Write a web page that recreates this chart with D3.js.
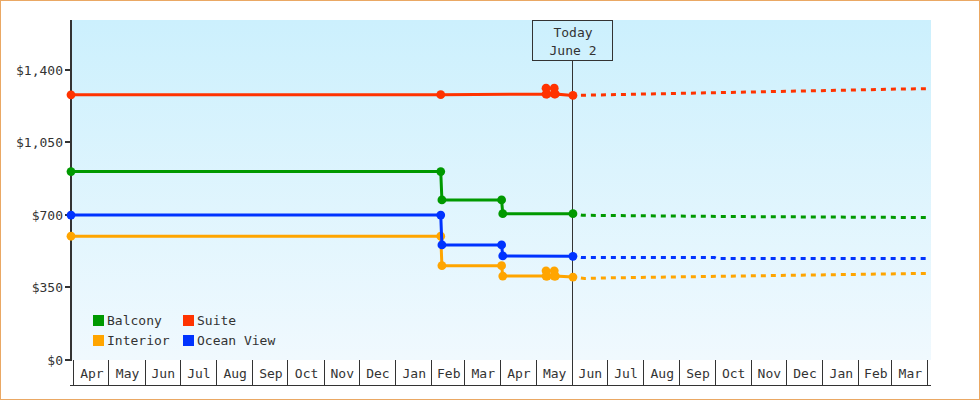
<!DOCTYPE html>
<html>
<head>
<meta charset="utf-8">
<script src="https://cdnjs.cloudflare.com/ajax/libs/d3/7.8.5/d3.min.js"></script>
<style>
  html, body { margin: 0; padding: 0; background: #fff; }
  svg { display: block; }
  text { font-family: "DejaVu Sans Mono", monospace; font-size: 13px; fill: #333; }
</style>
</head>
<body>
<div id="chart"></div>
<script>
// categories and their colours
var categories = ["Balcony", "Suite", "Interior", "Ocean View"];
var colors = ["#009900", "#ff3300", "#ffa500", "#0033ff"];

// recorded prices (solid), [date, price]
var balconyPrices = [["2017-03-30", 909], ["2018-02-09", 909], ["2018-02-10", 772], ["2018-04-02", 772], ["2018-04-03", 706], ["2018-06-02", 706]];
var suitePrices = [["2017-03-30", 1279], ["2018-02-09", 1280], ["2018-05-10", 1282], ["2018-05-10", 1311], ["2018-05-11", 1283],
                   ["2018-05-17", 1283], ["2018-05-17", 1311], ["2018-05-18", 1283], ["2018-06-02", 1276]];
var interiorPrices = [["2017-03-30", 597], ["2018-02-09", 597], ["2018-02-10", 455], ["2018-04-02", 455], ["2018-04-03", 405],
                      ["2018-05-10", 405], ["2018-05-10", 430], ["2018-05-11", 405], ["2018-05-17", 405], ["2018-05-17", 430],
                      ["2018-05-18", 405], ["2018-06-02", 400]];
var oceanPrices = [["2017-03-30", 699], ["2018-02-09", 699], ["2018-02-10", 555], ["2018-04-02", 555], ["2018-04-03", 502], ["2018-06-02", 500]];

// forecast prices (dashed)
var balconyForecast = [["2018-06-02", 706], ["2018-06-10", 698], ["2018-10-15", 692], ["2019-04-03", 687]];
var suiteForecast = [["2018-06-02", 1276], ["2018-06-10", 1277], ["2019-01-25", 1302], ["2019-03-08", 1307], ["2019-04-03", 1309]];
var interiorForecast = [["2018-06-02", 400], ["2018-06-12", 393], ["2018-07-01", 396], ["2019-04-03", 418]];
var oceanForecast = [["2018-06-02", 500], ["2018-06-10", 494], ["2018-10-01", 494], ["2018-10-03", 489], ["2019-04-03", 489]];

var yTicks = [0, 350, 700, 1050, 1400];
var todayLabel = ["Today", "June 2"];
var todayDate = "2018-06-02";
var dateRange = ["2017-03-30", "2019-04-04"];
var yMax = 1640;

(function() {
  "use strict";

  var width = 980, height = 400,
      margin = {top: 20, right: 49, bottom: 40, left: 71};

  var parse = d3.timeParse("%Y-%m-%d");
  var fmtMoney = d3.format("$,");

  var series = [
    {name: "Balcony", actual: balconyPrices, forecast: balconyForecast},
    {name: "Suite", actual: suitePrices, forecast: suiteForecast},
    {name: "Interior", actual: interiorPrices, forecast: interiorForecast},
    {name: "Ocean View", actual: oceanPrices, forecast: oceanForecast}
  ];
  // draw order: interior at the bottom, suite last
  var drawOrder = ["Interior", "Ocean View", "Balcony", "Suite"];

  var color = d3.scaleOrdinal().domain(categories).range(colors);

  var x = d3.scaleTime()
      .domain(dateRange.map(parse))
      .range([margin.left, width - margin.right]);
  var y = d3.scaleLinear()
      .domain([0, yMax])
      .range([height - margin.bottom, margin.top]);

  var svg = d3.select("#chart").append("svg")
      .attr("width", width)
      .attr("height", height);

  // gradient for the plot area
  var grad = svg.append("defs").append("linearGradient")
      .attr("id", "bg").attr("x1", 0).attr("y1", 0).attr("x2", 0).attr("y2", 1);
  grad.append("stop").attr("offset", "0%").attr("stop-color", "#ccf0fd");
  grad.append("stop").attr("offset", "100%").attr("stop-color", "#f0f9fe");

  // outer frame
  svg.append("rect")
      .attr("x", 0.5).attr("y", 0.5)
      .attr("width", width - 1).attr("height", height - 1)
      .attr("fill", "#fff").attr("stroke", "#eaa864");

  svg.append("rect")
      .attr("x", x.range()[0]).attr("y", y.range()[1])
      .attr("width", x.range()[1] - x.range()[0])
      .attr("height", y.range()[0] - y.range()[1])
      .attr("fill", "url(#bg)");

  // today marker
  var tx = Math.round(x(parse(todayDate))) - 0.5;
  svg.append("line")
      .attr("x1", tx).attr("x2", tx)
      .attr("y1", 60).attr("y2", y(0))
      .attr("stroke", "#333").attr("shape-rendering", "crispEdges");
  svg.append("rect")
      .attr("x", tx - 40).attr("y", 20.5)
      .attr("width", 80).attr("height", 40)
      .attr("fill", "none").attr("stroke", "#333").attr("shape-rendering", "crispEdges");
  svg.selectAll("text.today")
      .data(todayLabel)
      .enter().append("text")
      .attr("class", "today")
      .attr("x", tx + 0.5)
      .attr("y", function(d, i) { return 37 + i * 18; })
      .attr("text-anchor", "middle")
      .text(function(d) { return d; });

  // y axis
  var yAxis = svg.append("g").attr("shape-rendering", "crispEdges");
  yAxis.append("rect")
      .attr("x", margin.left - 1).attr("y", y.range()[1])
      .attr("width", 2).attr("height", y(0) - y.range()[1] + 1)
      .attr("fill", "#333");
  var yt = yAxis.selectAll("g.tick")
      .data(yTicks)
      .enter().append("g")
      .attr("class", "tick")
      .attr("transform", function(d) { return "translate(0," + Math.round(y(d)) + ")"; });
  yt.append("rect")
      .attr("x", margin.left - 6).attr("y", -1)
      .attr("width", 6).attr("height", 2)
      .attr("fill", "#333");
  yt.append("text")
      .attr("x", margin.left - 8).attr("y", 4.5)
      .attr("text-anchor", "end")
      .text(function(d) { return fmtMoney(d); });

  // x axis: one box per month
  var months = d3.timeMonth.range(d3.timeMonth.ceil(x.domain()[0]), x.domain()[1]);
  var xAxis = svg.append("g").attr("shape-rendering", "crispEdges");
  var axisTop = y(0), axisBottom = y(0) + 25;
  xAxis.selectAll("line.sep")
      .data(months)
      .enter().append("line")
      .attr("class", "sep")
      .attr("x1", function(d) { return Math.round(x(d)) + 0.5; })
      .attr("x2", function(d) { return Math.round(x(d)) + 0.5; })
      .attr("y1", axisTop).attr("y2", axisBottom)
      .attr("stroke", "#333");
  xAxis.append("line")
      .attr("x1", margin.left - 1).attr("x2", width - margin.right)
      .attr("y1", axisBottom + 0.5).attr("y2", axisBottom + 0.5)
      .attr("stroke", "#333");
  xAxis.selectAll("text")
      .data(months.slice(0, -1))
      .enter().append("text")
      .attr("x", function(d) { return (x(d) + x(d3.timeMonth.offset(d, 1))) / 2 + 1; })
      .attr("y", axisTop + 18)
      .attr("text-anchor", "middle")
      .text(function(d) { return d3.timeFormat("%b")(d); });

  // lines
  var line = d3.line()
      .x(function(d) { return x(parse(d[0])); })
      .y(function(d) { return y(d[1]); });

  var ordered = drawOrder.map(function(n) { return series.filter(function(s) { return s.name === n; })[0]; });

  var g = svg.append("g");
  ordered.forEach(function(s) {
    g.append("path")
        .attr("d", line(s.forecast))
        .attr("fill", "none")
        .attr("stroke", color(s.name))
        .attr("stroke-width", 3)
        .attr("stroke-dasharray", "5,5")
        .attr("stroke-dashoffset", -8);
    g.append("path")
        .attr("d", line(s.actual))
        .attr("fill", "none")
        .attr("stroke", color(s.name))
        .attr("stroke-width", 3);
    g.selectAll(null)
        .data(s.actual)
        .enter().append("circle")
        .attr("cx", function(d) { return x(parse(d[0])); })
        .attr("cy", function(d) { return y(d[1]); })
        .attr("r", 4.4)
        .attr("fill", color(s.name));
  });

  // legend, two columns
  var legend = svg.append("g").attr("transform", "translate(93,315)");
  var item = legend.selectAll("g")
      .data(categories)
      .enter().append("g")
      .attr("transform", function(d, i) { return "translate(" + (i % 2) * 90 + "," + Math.floor(i / 2) * 20 + ")"; });
  item.append("rect")
      .attr("width", 11).attr("height", 11)
      .attr("fill", function(d) { return color(d); });
  item.append("text")
      .attr("x", 14).attr("y", 10)
      .text(function(d) { return d; });
})();
</script>
</body>
</html>
